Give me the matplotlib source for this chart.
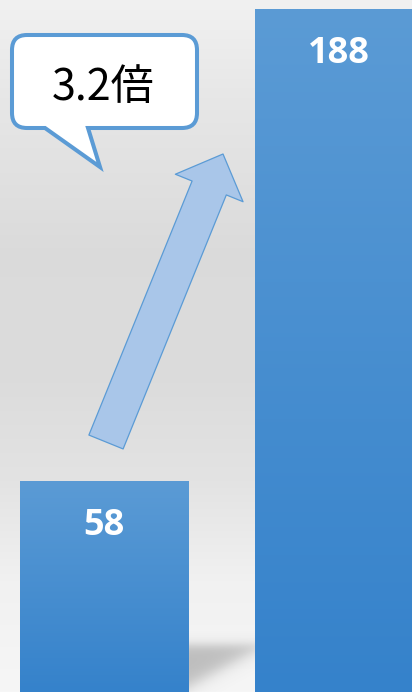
import numpy as np
import matplotlib
matplotlib.use("Agg")
import matplotlib.pyplot as plt
from matplotlib.patches import FancyArrowPatch, PathPatch
from matplotlib.path import Path
from matplotlib.colors import LinearSegmentedColormap
from matplotlib import font_manager

# ---------------- data ----------------
categories = ["前", "後"]
values = [58, 188]
value_labels = ["58", "188"]
ratio_label = f"{values[1] / values[0]:.1f}倍"

# ---------------- figure ----------------
W, H, DPI = 412, 692, 100
fig = plt.figure(figsize=(W / DPI, H / DPI), dpi=DPI)
ax = fig.add_axes([0, 0, 1, 1])
ax.set_axis_off()

XLIM = (-0.4426, 1.3106)
YLIM = (0, 190.5)

def px2data(px, py):
    x = XLIM[0] + px / W * (XLIM[1] - XLIM[0])
    y = YLIM[0] + (H - py) / H * (YLIM[1] - YLIM[0])
    return x, y

# choose a bold font that really has a bold face
bold_family = "DejaVu Sans"
for fam in ["Open Sans", "Noto Sans", "Lato", "Roboto"]:
    try:
        fp = font_manager.findfont(font_manager.FontProperties(family=fam, weight="bold"),
                                   fallback_to_default=False)
        if "bold" in fp.lower():
            bold_family = fam
            break
    except Exception:
        pass

# background gradient (vertical)
stops_y = np.array([0, 100, 250, 380, 480, 580, 692])
stops_v = np.array([0.945, 0.905, 0.858, 0.862, 0.89, 0.945, 0.965])
rows = np.interp(np.arange(H), stops_y, stops_v)
bg = np.repeat(rows[:, None], 2, axis=1)
bg_rgb = np.dstack([bg, bg, bg])
ax.imshow(bg_rgb, extent=[0, 1, 0, 1], transform=ax.transAxes,
          aspect="auto", zorder=0, interpolation="bilinear")

# soft shadow between the bars
sx0, sx1, sy0, sy1 = 170, 262, 610, 692
gx, gy = np.meshgrid(np.arange(sx0, sx1) + 0.5, np.arange(sy0, sy1) + 0.5)
sig = lambda t: 1.0 / (1.0 + np.exp(-t))
line_y = 650 + (255 - gx) * 0.55
alpha = sig((gy - 645) / 3.0) * sig((line_y - gy) / 5.0) * 0.42
shadow = np.zeros((sy1 - sy0, sx1 - sx0, 4))
shadow[..., :3] = 0.45
shadow[..., 3] = alpha
(dx0, dy1), (dx1, dy0) = px2data(sx0, sy0), px2data(sx1, sy1)
ax.imshow(shadow, extent=[dx0, dx1, dy0, dy1], aspect="auto", zorder=1,
          interpolation="bilinear")

# bars with vertical gradient
xpos = np.arange(len(values))
bar_w = 0.715
bars = ax.bar(xpos, values, width=bar_w, color="none", edgecolor="none", zorder=2)
cmap = LinearSegmentedColormap.from_list("barg", ["#3582cb", "#5b9bd5"])
grad = np.linspace(0, 1, 256)[:, None]
for b in bars:
    x0, y0 = b.get_x(), b.get_y()
    im = ax.imshow(grad, extent=[x0, x0 + b.get_width(), y0, y0 + b.get_height()],
                   origin="lower", cmap=cmap, aspect="auto", zorder=2,
                   interpolation="bilinear")
    im.set_clip_path(b)

# value labels
for xi, v, lab in zip(xpos, values, value_labels):
    ax.annotate(lab, xy=(xi, v), xytext=(0, -38.5), textcoords="offset points",
                ha="center", va="baseline", color="white", fontsize=26,
                fontweight="bold", family=[bold_family, "DejaVu Sans"], zorder=5)

# arrow
pA = px2data(106, 442)
pB = px2data(223, 154)
arrow = FancyArrowPatch(pA, pB,
                        arrowstyle="simple,head_length=26.4,head_width=52.6,tail_width=26.6",
                        mutation_scale=1, shrinkA=0, shrinkB=0,
                        facecolor="#a9c6e9", edgecolor="#5b9bd5", linewidth=0.9,
                        zorder=4)
ax.add_patch(arrow)

# speech bubble
L, R, T, B, r = 12, 197, 35, 128, 15
tl, tr, tip = 45, 88, (100, 167)
verts = [
    (L + r, T), (R - r, T), (R, T), (R, T + r), (R, B - r), (R, B), (R - r, B),
    (tr, B), tip, (tl, B), (L + r, B), (L, B), (L, B - r), (L, T + r), (L, T), (L + r, T),
    (L + r, T),
]
codes = [Path.MOVETO, Path.LINETO, Path.CURVE3, Path.CURVE3, Path.LINETO, Path.CURVE3,
         Path.CURVE3, Path.LINETO, Path.LINETO, Path.LINETO, Path.LINETO, Path.CURVE3,
         Path.CURVE3, Path.LINETO, Path.CURVE3, Path.CURVE3, Path.CLOSEPOLY]
verts_f = [(vx / W, 1 - vy / H) for vx, vy in verts]
bubble = PathPatch(Path(verts_f, codes), transform=ax.transAxes, facecolor="white",
                   edgecolor="#5b9bd5", linewidth=2.9, joinstyle="miter", zorder=6)
ax.add_patch(bubble)
ax.text(103.5 / W, 1 - 100 / H, ratio_label, transform=ax.transAxes,
        ha="center", va="baseline", fontsize=31, color="black",
        family=["Noto Sans CJK JP", "DejaVu Sans"], zorder=7)

ax.set_xlim(*XLIM)
ax.set_ylim(*YLIM)
fig.savefig("out.png", dpi=DPI)
